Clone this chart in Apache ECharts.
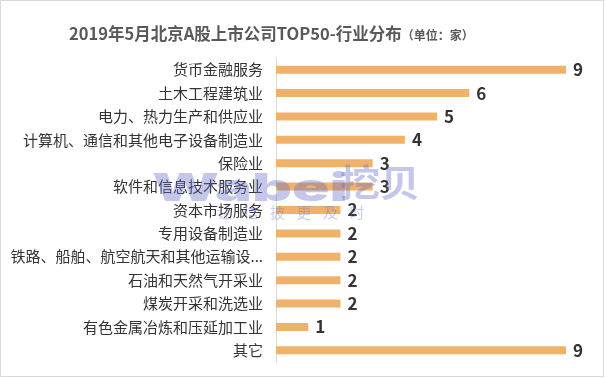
<!DOCTYPE html>
<html>
<head>
<meta charset="utf-8">
<script src="https://cdn.jsdelivr.net/npm/echarts@6/dist/echarts.min.js"></script>
<style>
	html, body { margin: 0; padding: 0; background: #fff; }
	#chart { width: 605px; height: 378px; }
</style>
</head>
<body>
<div id="chart"></div>
<script>
	// 行业分类（从上到下）
	var categories = ['货币金融服务', '土木工程建筑业', '电力、热力生产和供应业', '计算机、通信和其他电子设备制造业',
		'保险业', '软件和信息技术服务业', '资本市场服务', '专用设备制造业', '铁路、船舶、航空航天和其他运输设备制造业',
		'石油和天然气开采业', '煤炭开采和洗选业', '有色金属冶炼和压延加工业', '其它'];
	var counts = [9, 6, 5, 4, 3, 3, 2, 2, 2, 2, 2, 1, 9];

	var fontCn = '"Noto Sans CJK SC", "Microsoft YaHei", sans-serif';
	var textColor = '#333';
	var markColor = 'rgba(100,108,200,0.38)';

	// 边框 + 水印
	var graphics = [
		{
			type: 'rect',
			shape: { x: 0.5, y: 0.5, width: 603, height: 376 },
			style: { fill: 'none', stroke: '#d9d9d9', lineWidth: 1 },
			silent: true
		},
		{
			type: 'text',
			x: 152,
			y: 170,
			scaleX: 1.44,
			scaleY: 0.9,
			z: 100,
			style: {
				text: 'Wabei',
				font: '900 43px Inter, "Noto Sans", sans-serif',
				fill: markColor
			},
			silent: true
		},
		{
			type: 'text',
			x: 340,
			y: 164,
			scaleX: 1.08,
			z: 100,
			style: {
				text: '挖贝',
				font: 'bold 37px ' + fontCn,
				fill: markColor
			},
			silent: true
		}
	];
	'让信披更及时'.split('').forEach(function (ch, i) {
		graphics.push({
			type: 'text',
			x: 217 + i * 26.5,
			y: 205,
			z: 100,
			style: { text: ch, font: '15px ' + fontCn, fill: 'rgba(100,108,200,0.35)' },
			silent: true
		});
	});

	var option = {
		backgroundColor: '#fff',
		animation: false,
		title: {
			left: 64,
			top: 20,
			text: '{a|2019年5月北京A股上市公司TOP50-行业分布}{b|（单位：家）}',
			textStyle: {
				rich: {
					a: { fontFamily: fontCn, fontSize: 16.5, fontWeight: 'bold', color: '#595959' },
					b: { fontFamily: fontCn, fontSize: 12, color: '#595959', padding: [4, 0, 0, 0] }
				}
			}
		},
		grid: {
			left: 276,
			right: 39,
			top: 58,
			bottom: 16
		},
		xAxis: {
			type: 'value',
			min: 0,
			max: 9,
			show: false
		},
		yAxis: {
			type: 'category',
			inverse: true,
			data: categories,
			axisTick: { show: false },
			axisLine: { show: true, lineStyle: { color: '#d9d9d9' } },
			axisLabel: {
				color: textColor,
				fontFamily: fontCn,
				fontSize: 15,
				margin: 13,
				formatter: function (v) {
					return v.length > 17 ? v.substring(0, 16) + '...' : v;
				}
			}
		},
		series: [{
			type: 'bar',
			data: counts,
			barWidth: 8,
			itemStyle: { color: '#F0B26B' },
			label: {
				show: true,
				position: 'right',
				distance: 7,
				color: textColor,
				fontFamily: fontCn,
				fontSize: 17,
				fontWeight: 'bold'
			}
		}],
		graphic: graphics
	};

	var myChart = echarts.init(document.getElementById('chart'));
	myChart.setOption(option);
</script>
</body>
</html>
